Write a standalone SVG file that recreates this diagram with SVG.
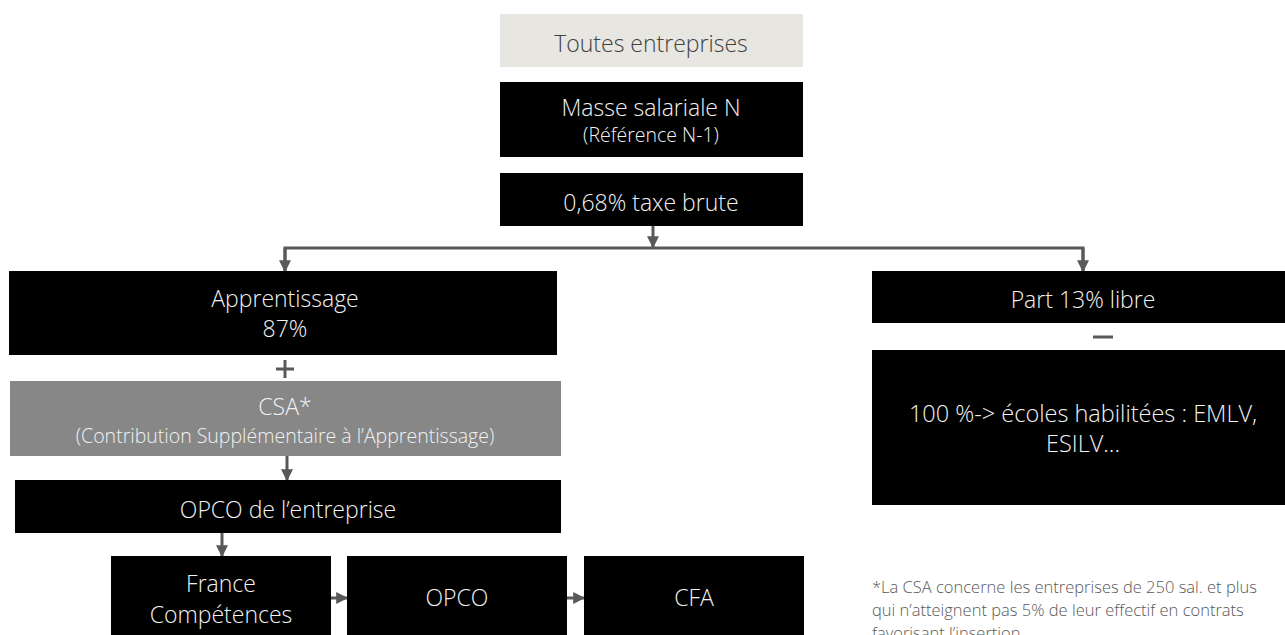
<svg xmlns="http://www.w3.org/2000/svg" width="1285" height="635" viewBox="0 0 1285 635">
<defs>
<style>
.t{font-family:"Open Sans","Noto Sans",sans-serif;font-weight:300;text-anchor:middle;fill:#f2f2f2;font-size:23px}
.s{font-size:19.5px}
.b{fill:#000}
.c{stroke:#595959;stroke-width:3;fill:none}
.f{font-family:"Open Sans","Noto Sans",sans-serif;font-weight:300;fill:#595959;font-size:16.5px}
</style>
<marker id="ah" viewBox="0 0 10 10" refX="9" refY="5" markerWidth="4" markerHeight="4" orient="auto" markerUnits="strokeWidth">
<path d="M0,0 L10,5 L0,10 z" fill="#595959"/>
</marker>
</defs>
<rect width="1285" height="635" fill="#fff"/>
<g id="connectors">
<path class="c" d="M653,226 V247" marker-end="url(#ah)"/>
<path class="c" d="M285,271 V248 H1083 V271"/>
<path class="c" d="M1083,248 V271" marker-end="url(#ah)"/>
<path class="c" d="M285,248 V271" marker-end="url(#ah)"/>
<path class="c" d="M287,456 V480" marker-end="url(#ah)"/>
<path class="c" d="M222,533 V556" marker-end="url(#ah)"/>
<path class="c" d="M325,598 H347" marker-end="url(#ah)"/>
<path class="c" d="M561,598 H584" marker-end="url(#ah)"/>
</g>
<g id="toutes">
<rect x="500" y="14" width="303" height="53" fill="#e7e6e1"/>
<text class="t" x="651" y="52" style="fill:#404040">Toutes entreprises</text>
</g>
<g id="masse">
<rect class="b" x="500" y="82" width="303" height="75"/>
<text class="t" x="651" y="116">Masse salariale N</text>
<text class="t s" x="651" y="142">(Référence N-1)</text>
</g>
<g id="taxe">
<rect class="b" x="500" y="173" width="303" height="53"/>
<text class="t" x="651" y="211">0,68% taxe brute</text>
</g>
<g id="apprentissage">
<rect class="b" x="9" y="271" width="548" height="84"/>
<text class="t" x="285" y="307">Apprentissage</text>
<text class="t" x="285" y="337">87%</text>
</g>
<g id="plus">
<path d="M276,369 H294 M285,360 V378" stroke="#595959" stroke-width="3"/>
</g>
<g id="csa">
<rect x="10" y="381" width="551" height="75" fill="#878787"/>
<text class="t" x="285" y="415">CSA*</text>
<text class="t s" x="285" y="443">(Contribution Supplémentaire à l’Apprentissage)</text>
</g>
<g id="opco-entreprise">
<rect class="b" x="15" y="480" width="546" height="53"/>
<text class="t" x="288" y="518">OPCO de l’entreprise</text>
</g>
<g id="france">
<rect class="b" x="111" y="556" width="220" height="90"/>
<text class="t" x="221" y="592">France</text>
<text class="t" x="221" y="623">Compétences</text>
</g>
<g id="opco">
<rect class="b" x="347" y="556" width="220" height="90"/>
<text class="t" x="457" y="606">OPCO</text>
</g>
<g id="cfa">
<rect class="b" x="584" y="556" width="220" height="90"/>
<text class="t" x="694" y="606">CFA</text>
</g>
<g id="part">
<rect class="b" x="872" y="271" width="413" height="52"/>
<text class="t" x="1083" y="308">Part 13% libre</text>
</g>
<g id="minus">
<path d="M1093,337 H1113" stroke="#595959" stroke-width="3"/>
</g>
<g id="ecoles">
<rect class="b" x="872" y="350" width="413" height="155"/>
<text class="t" x="1083" y="422" style="font-size:23.5px">100 %-&gt; écoles habilitées : EMLV,</text>
<text class="t" x="1083" y="452" style="font-size:23.5px">ESILV...</text>
</g>
<g id="footnote">
<text class="f" x="872" y="593">*La CSA concerne les entreprises de 250 sal. et plus</text>
<text class="f" x="872" y="616">qui n’atteignent pas 5% de leur effectif en contrats</text>
<text class="f" x="872" y="639">favorisant l’insertion</text>
</g>
</svg>
